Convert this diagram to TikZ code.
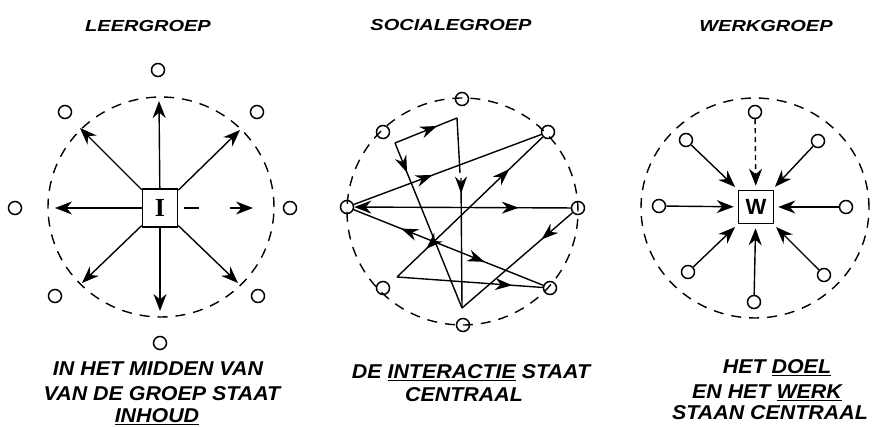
\documentclass[tikz,border=0pt]{standalone}
\usepackage{fontspec}
\setmainfont{Liberation Sans}
\newfontfamily\serifbox{Liberation Serif}
\usetikzlibrary{arrows.meta,decorations.markings}
\tikzset{
  lbl/.style={font=\bfseries\itshape\fontsize{20}{24}\selectfont, inner sep=0pt, anchor=north, xscale=1.07},
  ttl/.style={font=\bfseries\itshape\fontsize{16}{18}\selectfont, inner sep=0pt, anchor=north, xscale=1.25},
  member/.style={circle, draw, line width=1.5pt, minimum size=13pt, inner sep=0pt},
  ring/.style={draw, line width=1.4pt, dash pattern=on 10pt off 8pt},
  centre/.style={draw, line width=1.5pt, minimum width=35pt, minimum height=38pt, inner sep=0pt},
  link/.style={line width=1.4pt},
  tip/.style={-{Stealth[length=17pt,width=13pt,inset=5.5pt]}},
  tipstart/.style={{Stealth[length=17pt,width=13pt,inset=5.5pt]}-},
  midto/.style={postaction={decorate, decoration={markings, mark=at position #1 with {\arrow{Stealth[length=17pt,width=12pt,inset=5.5pt]}}}}},
  midfrom/.style={postaction={decorate, decoration={markings, mark=at position #1 with {\arrowreversed{Stealth[length=17pt,width=12pt,inset=5.5pt]}}}}},
}
\begin{document}
\begin{tikzpicture}[x=1pt,y=-1pt]
\fill[white] (0,0) rectangle (875,427);
\useasboundingbox (0,0) rectangle (875,427);

% ---------- titles ----------
\node[ttl] (tL) at (148,20) {LEERGROEP};
\node[ttl] (tS) at (451,19) {SOCIALEGROEP};
\node[ttl] (tW) at (766,20) {WERKGROEP};

% ---------- LEERGROEP ----------
\draw[ring] (161,207) ellipse [x radius=113pt, y radius=110pt];
\node[centre] (I) at (160,208) {\serifbox\bfseries\fontsize{26}{26}\selectfont I};
\node[member] (lt)  at (158,70)  {};
\node[member] (ltl) at (65,112)  {};
\node[member] (ltr) at (257,112) {};
\node[member] (ll)  at (15,208)  {};
\node[member] (lr)  at (290,208) {};
\node[member] (lbl) at (55,296)  {};
\node[member] (lbr) at (258,296) {};
\node[member] (lb)  at (160,343) {};
\coordinate (Lup) at (159,101);
\coordinate (Lul) at (80,128);
\coordinate (Lur) at (240,130);
\coordinate (Ll)  at (55,208);
\coordinate (Lstub) at (199,208);
\coordinate (Lrs) at (230,208);
\coordinate (Lr)  at (253,208);
\coordinate (Ldl) at (82,283);
\coordinate (Ld)  at (160,311);
\coordinate (Ldr) at (238,283);
\draw[link,tip] (I) -- (Lup);
\draw[link,tip] (I) -- (Lul);
\draw[link,tip] (I) -- (Lur);
\draw[link,tip] (I) -- (Ll);
\draw[link,shorten <=6pt] (I.east) -- (Lstub);
\draw[link,tip] (Lrs) -- (Lr);
\draw[link,tip] (I) -- (Ldl);
\draw[link,tip] (I) -- (Ld);
\draw[link,tip] (I) -- (Ldr);

% ---------- SOCIALE GROEP ----------
\draw[ring] (462.5,211.5) ellipse [x radius=115.5pt, y radius=113.5pt];
\node[member] (mt)  at (462,99)  {};
\node[member] (mtl) at (383,132) {};
\node[member] (mtr) at (548,132) {};
\node[member] (ml)  at (347,207) {};
\node[member] (mr)  at (578,208) {};
\node[member] (mbl) at (383,288) {};
\node[member] (mbr) at (550,288) {};
\node[member] (mb)  at (463,325) {};
\coordinate (a1) at (395,143);
\coordinate (a2) at (457,118);
\coordinate (a3) at (460,173);
\coordinate (a4) at (461,178);
\coordinate (b0) at (462,308);
\coordinate (c1) at (397,277);
\draw[link,midto=0.68] (a1) -- (a2);
\draw[link] (a2) -- (a3);
\draw[link,midto=0.18] (a1) -- (b0);
\draw[link,midto=0.12] (a4) -- (b0);
\draw[link,midto=0.42] (ml) -- (mtr);
\draw[link,tipstart,midto=0.76] (ml) -- (mr);
\draw[link,midfrom=0.25,midto=0.69] (ml) -- (mbr);
\draw[link,midfrom=0.2,midto=0.77] (c1) -- (mtr);
\draw[link,midto=0.79] (c1) -- (mbr);
\draw[link,midto=0.28] (mr) -- (b0);

% ---------- WERKGROEP ----------
\draw[ring] (755,208) ellipse [x radius=114pt, y radius=110pt];
\node[centre,minimum height=33pt] (W) at (756,207) {\bfseries\fontsize{22}{22}\selectfont W};
\node[member] (rt)  at (755,112) {};
\node[member] (rtl) at (686,140) {};
\node[member] (rtr) at (818,141) {};
\node[member] (rl)  at (659,206) {};
\node[member] (rr)  at (846,207) {};
\node[member] (rbl) at (688,272) {};
\node[member] (rbr) at (824,275) {};
\node[member] (rb)  at (754,302) {};
\draw[link,tip,shorten >=4pt,dash pattern=on 5pt off 4pt] (rt) -- (W);
\draw[link,tip,shorten >=4pt] (rtl) -- (W);
\draw[link,tip,shorten >=4pt] (rtr) -- (W);
\draw[link,tip,shorten >=4pt] (rl) -- (W);
\draw[link,tip,shorten >=4pt] (rr) -- (W);
\draw[link,tip,shorten >=4pt] (rbl) -- (W);
\draw[link,tip,shorten >=4pt] (rbr) -- (W);
\draw[link,tip,shorten >=4pt] (rb) -- (W);

% ---------- captions ----------
\node[lbl] (cl1) at (158,362) {IN HET MIDDEN VAN};
\node[lbl] (cl2) at (162,386) {VAN DE GROEP STAAT};
\node[lbl] (cl3) at (157,408) {\underline{INHOUD}};
\node[lbl] (cm1) at (471,364) {DE \underline{INTERACTIE} STAAT};
\node[lbl] (cm2) at (464,387) {CENTRAAL};
\node[lbl] (cr1) at (777,359) {HET \underline{DOEL}};
\node[lbl] (cr2) at (767,385) {EN HET \underline{WERK}};
\node[lbl] (cr3) at (770,405) {STAAN CENTRAAL};
\end{tikzpicture}
\end{document}
